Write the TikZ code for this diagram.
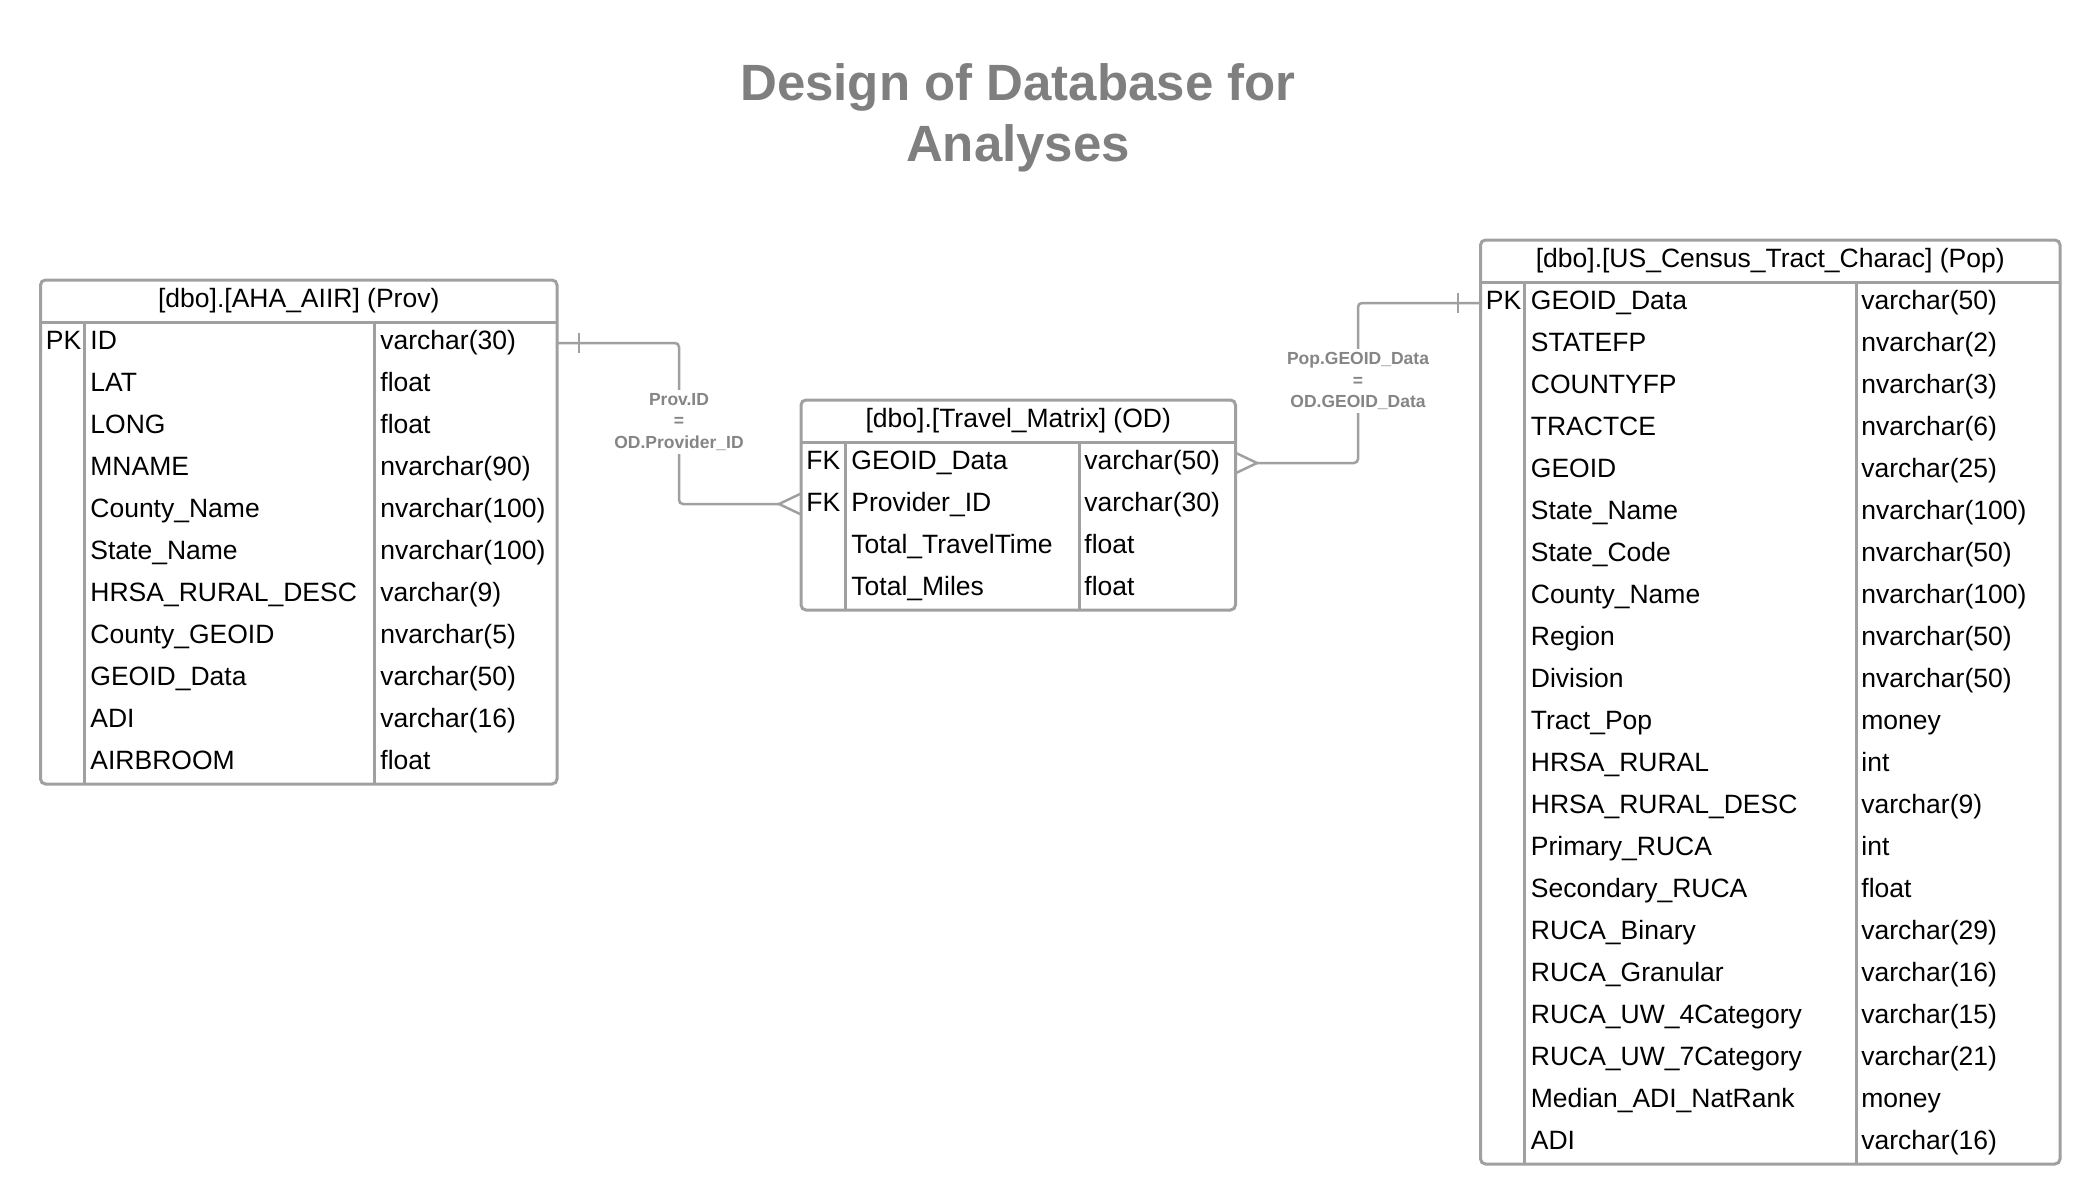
\documentclass[tikz,border=0pt]{standalone}
\usepackage{fontspec}
\setmainfont{Liberation Sans}
\definecolor{lineg}{HTML}{A0A0A0}
\definecolor{titleg}{HTML}{7F7F7F}
\definecolor{labg}{HTML}{858585}
\begin{document}
\begin{tikzpicture}[x=0.5pt,y=-0.5pt,
  frame/.style={draw=lineg, line width=1.5pt, rounded corners=2.5pt},
  sepline/.style={draw=lineg, line width=1.5pt},
  cell/.style={anchor=base west, inner sep=0pt, font=\fontsize{13.25pt}{15pt}\selectfont},
  hdr/.style={anchor=base, inner sep=0pt, font=\fontsize{13.25pt}{15pt}\selectfont},
  ttl/.style={anchor=base, inner sep=0pt, text=titleg, font=\bfseries\fontsize{25.5pt}{30.5pt}\selectfont},
  conn/.style={draw=lineg, line width=1.25pt, rounded corners=2pt},
  foot/.style={draw=lineg, line width=1.25pt},
  rel/.style={fill=white, text=labg, align=center, inner sep=2pt,
    font=\bfseries\fontsize{8.75pt}{10.65pt}\selectfont}]
\useasboundingbox (0,0) rectangle (2100,1204);

% title
\node[ttl] (title1) at (1018,100.7) {Design of Database for};
\node[ttl] (title2) at (1018,161.7) {Analyses};

% ---- Prov table ----
\draw[frame] (40.5,280) rectangle (557,784);
\draw[sepline] (40.5,322) -- (557,322);
\draw[sepline] (84,322) -- (84,784);
\draw[sepline] (374.5,322) -- (374.5,784);
\node[hdr] (provhdr) at (298.75,307) {[dbo].[AHA\_AIIR] (Prov)};
\node[cell] (provpk) at (45.5,349) {PK};
\foreach [count=\i from 0] \nm/\ty in {ID/varchar(30), LAT/float, LONG/float, MNAME/nvarchar(90),
  County\_Name/nvarchar(100), State\_Name/nvarchar(100), HRSA\_RURAL\_DESC/varchar(9),
  County\_GEOID/nvarchar(5), GEOID\_Data/varchar(50), ADI/varchar(16), AIRBROOM/float}{
  \node[cell] (prov-n\i) at ({90},{349+42*\i}) {\nm};
  \node[cell] (prov-t\i) at ({380},{349+42*\i}) {\ty};
}

% ---- OD table ----
\draw[frame] (801,400) rectangle (1235.5,610);
\draw[sepline] (801,442) -- (1235.5,442);
\draw[sepline] (845,442) -- (845,610);
\draw[sepline] (1079,442) -- (1079,610);
\node[hdr] (odhdr) at (1018.25,427) {[dbo].[Travel\_Matrix] (OD)};
\node[cell] (odfk1) at (806,469) {FK};
\node[cell] (odfk2) at (806,511) {FK};
\foreach [count=\i from 0] \nm/\ty in {GEOID\_Data/varchar(50), Provider\_ID/varchar(30),
  Total\_TravelTime/float, Total\_Miles/float}{
  \node[cell] (od-n\i) at ({851},{469+42*\i}) {\nm};
  \node[cell] (od-t\i) at ({1084},{469+42*\i}) {\ty};
}

% ---- Pop table ----
\draw[frame] (1480.5,240) rectangle (2060,1164);
\draw[sepline] (1480.5,282) -- (2060,282);
\draw[sepline] (1524.5,282) -- (1524.5,1164);
\draw[sepline] (1856,282) -- (1856,1164);
\node[hdr] (pophdr) at (1770.25,267) {[dbo].[US\_Census\_Tract\_Charac] (Pop)};
\node[cell] (poppk) at (1485.5,309) {PK};
\foreach [count=\i from 0] \nm/\ty in {GEOID\_Data/varchar(50), STATEFP/nvarchar(2),
  COUNTYFP/nvarchar(3), TRACTCE/nvarchar(6), GEOID/varchar(25), State\_Name/nvarchar(100),
  State\_Code/nvarchar(50), County\_Name/nvarchar(100), Region/nvarchar(50),
  Division/nvarchar(50), Tract\_Pop/money, HRSA\_RURAL/int, HRSA\_RURAL\_DESC/varchar(9),
  Primary\_RUCA/int, Secondary\_RUCA/float, RUCA\_Binary/varchar(29),
  RUCA\_Granular/varchar(16), RUCA\_UW\_4Category/varchar(15),
  RUCA\_UW\_7Category/varchar(21), Median\_ADI\_NatRank/money, ADI/varchar(16)}{
  \node[cell] (pop-n\i) at ({1530.5},{309+42*\i}) {\nm};
  \node[cell] (pop-t\i) at ({1861},{309+42*\i}) {\ty};
}

% ---- connector Prov.ID -> OD.Provider_ID ----
\coordinate (c1a) at (557,343);
\coordinate (c1b) at (779,504);
\coordinate (c1e) at (800,504);
\draw[conn] (c1a) -- (679,343) -- (679,504) -- (c1b);
\draw[foot] (579,333) -- (579,353);
\draw[foot] ([yshift=5pt]c1e) -- (c1b) -- ([yshift=-5pt]c1e);
\node[rel] (lab1) at (679,422) {Prov.ID\\=\\OD.Provider\_ID};

% ---- connector Pop.GEOID_Data -> OD.GEOID_Data ----
\coordinate (c2a) at (1480.5,303);
\coordinate (c2b) at (1257,463);
\coordinate (c2e) at (1236,463);
\draw[conn] (c2b) -- (1358,463) -- (1358,303) -- (c2a);
\draw[foot] (1458,293) -- (1458,313);
\draw[foot] ([yshift=5pt]c2e) -- (c2b) -- ([yshift=-5pt]c2e);
\node[rel] (lab2) at (1358,381) {Pop.GEOID\_Data\\=\\OD.GEOID\_Data};
\end{tikzpicture}
\end{document}
